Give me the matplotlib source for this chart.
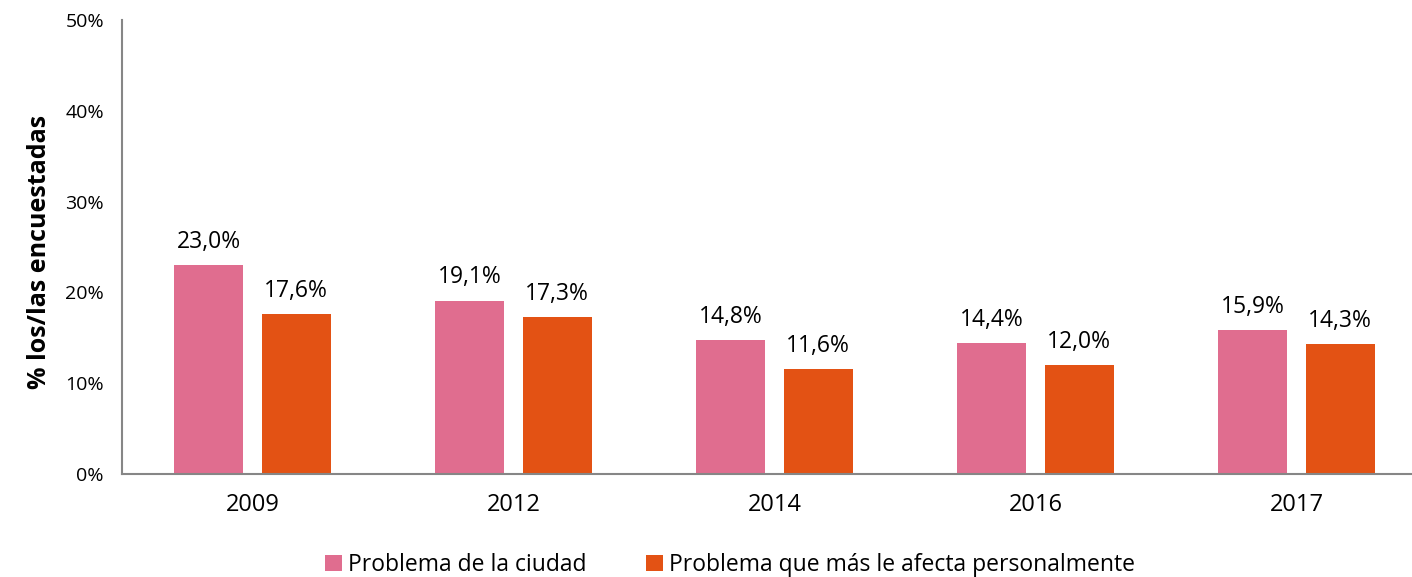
import matplotlib.pyplot as plt
import numpy as np

years = ['2009', '2012', '2014', '2016', '2017']
ciudad = [23.0, 19.1, 14.8, 14.4, 15.9]
personal = [17.6, 17.3, 11.6, 12.0, 14.3]
series_names = ['Problema de la ciudad', 'Problema que más le afecta personalmente']

plt.rcParams['font.family'] = ['Open Sans', 'DejaVu Sans']

fig = plt.figure(figsize=(14.12, 5.77), dpi=100)
ax = fig.add_axes([122/1412, 1 - 474/577, 1 - 122/1412, (474 - 20)/577])

x = np.arange(len(years))
w = 0.264
off = 0.167
b1 = ax.bar(x - off, ciudad, w, color='#E06D8F', label=series_names[0])
b2 = ax.bar(x + off, personal, w, color='#E35214', label=series_names[1])

for bars, vals in ((b1, ciudad), (b2, personal)):
    for r, v in zip(bars, vals):
        ax.annotate(f'{v:.1f}%'.replace('.', ','), (r.get_x() + r.get_width()/2, v),
                    xytext=(0, 8), textcoords='offset points', ha='center', va='bottom', fontsize=16.5)

ax.set_xlim(-0.5, -0.5 + (1412 - 122)/261)
ax.set_ylim(0, 50)
ax.set_yticks(range(0, 51, 10))
ax.set_yticklabels([f'{t}%' for t in range(0, 51, 10)])
ax.set_xticks(x)
ax.set_xticklabels(years)
ax.tick_params(axis='both', length=0)
ax.tick_params(axis='y', pad=13, labelsize=14)
ax.tick_params(axis='x', pad=14, labelsize=17)

for s in ['top', 'right']:
    ax.spines[s].set_visible(False)
for s in ['left', 'bottom']:
    ax.spines[s].set_color('#868686')
    ax.spines[s].set_linewidth(1.5)

fig.text(40/1412, 1 - 252/577, '% los/las encuestadas', rotation=90, ha='center', va='center',
         fontsize=18, fontweight='bold')

fig.legend(handles=[b1, b2], loc='center', bbox_to_anchor=(730/1412, 1 - 565/577), ncol=2,
           frameon=False, fontsize=16.5, handlelength=0.75, handleheight=0.75, handletextpad=0.25,
           columnspacing=2.6, borderpad=0)

fig.savefig('out.png', dpi=100)
